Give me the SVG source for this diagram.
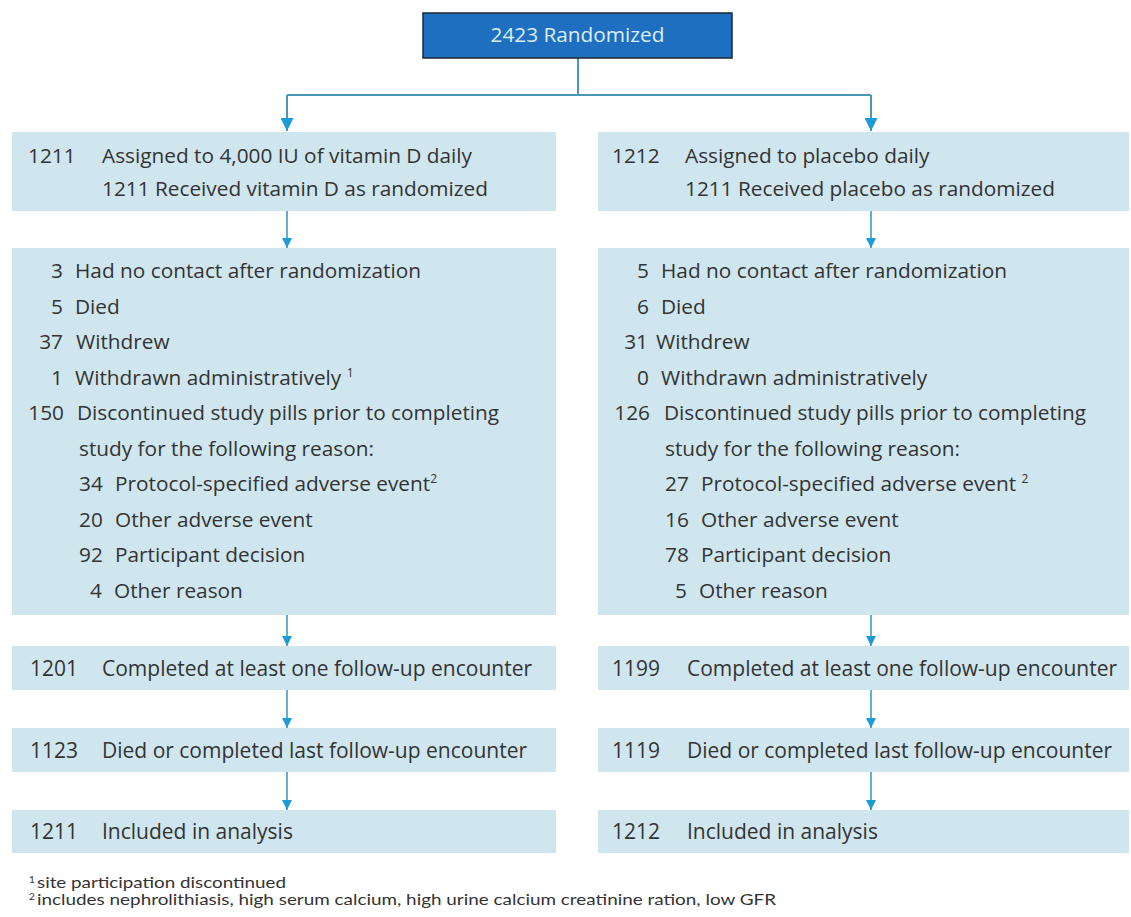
<svg xmlns="http://www.w3.org/2000/svg" width="1131" height="917" viewBox="0 0 1131 917">
<style>
.box{fill:#cfe6ef}
.t{font-family:"Open Sans","Noto Sans",sans-serif;font-size:20.8px;fill:#333}
.lo{font-size:21px}
.e{text-anchor:end}
.sup{font-size:12px}
.fn{font-family:Lato,"Open Sans",sans-serif;font-size:15px;fill:#333}
.fns{font-family:Lato,"Open Sans",sans-serif;font-size:10px;fill:#333}
.ln{fill:none;stroke:#4a98b3;stroke-width:2}
.ar{fill:none;stroke:#3a9cc9;stroke-width:1.6}
</style>
<defs>
<marker id="ah" viewBox="0 0 10 10" refX="10" refY="5" markerWidth="6.5" markerHeight="6.5" orient="auto" markerUnits="strokeWidth">
<path d="M0,0 L10,5 L0,10 Z" fill="#1c9bd6"/>
</marker>
</defs>
<rect width="1131" height="917" fill="#ffffff"/>

<g id="connectors">
<path class="ln" d="M578,58 V95 M287,95 H871"/>
<path class="ln" d="M287,95 V131" marker-end="url(#ah)"/>
<path class="ln" d="M871,95 V131" marker-end="url(#ah)"/>
<path class="ar" d="M287,211 V248" marker-end="url(#ah)"/>
<path class="ar" d="M871,211 V248" marker-end="url(#ah)"/>
<path class="ar" d="M287,615 V646" marker-end="url(#ah)"/>
<path class="ar" d="M871,615 V646" marker-end="url(#ah)"/>
<path class="ar" d="M287,690 V728" marker-end="url(#ah)"/>
<path class="ar" d="M871,690 V728" marker-end="url(#ah)"/>
<path class="ar" d="M287,772 V810" marker-end="url(#ah)"/>
<path class="ar" d="M871,772 V810" marker-end="url(#ah)"/>
</g>

<g id="randomized">
<rect x="423" y="13" width="309" height="45" fill="#1e6fc0" stroke="#1c2733" stroke-width="1.5"/>
<text class="t" x="577.5" y="42" text-anchor="middle" style="fill:#dcedf6">2423 Randomized</text>
</g>

<g id="assigned-vitd">
<rect class="box" x="12" y="132" width="544" height="79"/>
<text class="t" x="28" y="163">1211</text>
<text class="t" x="102" y="163">Assigned to 4,000 IU of vitamin D daily</text>
<text class="t" x="102" y="196">1211 Received vitamin D as randomized</text>
</g>

<g id="assigned-placebo">
<rect class="box" x="598" y="132" width="531" height="79"/>
<text class="t" x="612" y="163">1212</text>
<text class="t" x="685" y="163">Assigned to placebo daily</text>
<text class="t" x="685" y="196">1211 Received placebo as randomized</text>
</g>

<g id="losses-vitd">
<rect class="box" x="12" y="248" width="544" height="367"/>
<text class="t e" x="63" y="278">3</text><text class="t" x="75" y="278">Had no contact after randomization</text>
<text class="t e" x="63" y="313.5">5</text><text class="t" x="75" y="313.5">Died</text>
<text class="t e" x="63" y="349">37</text><text class="t" x="76" y="349">Withdrew</text>
<text class="t e" x="63" y="384.5">1</text><text class="t" x="75" y="384.5">Withdrawn administratively <tspan class="sup" dy="-8">1</tspan></text>
<text class="t e" x="64" y="420">150</text><text class="t" x="77" y="420">Discontinued study pills prior to completing</text>
<text class="t" x="79" y="455.5">study for the following reason:</text>
<text class="t" x="79" y="491">34</text><text class="t" x="115" y="491">Protocol-specified adverse event<tspan class="sup" dy="-8">2</tspan></text>
<text class="t" x="79" y="526.5">20</text><text class="t" x="115" y="526.5">Other adverse event</text>
<text class="t" x="79" y="562">92</text><text class="t" x="115" y="562">Participant decision</text>
<text class="t e" x="102" y="597.5">4</text><text class="t" x="114" y="597.5">Other reason</text>
</g>

<g id="losses-placebo">
<rect class="box" x="598" y="248" width="531" height="367"/>
<text class="t e" x="649" y="278">5</text><text class="t" x="661" y="278">Had no contact after randomization</text>
<text class="t e" x="649" y="313.5">6</text><text class="t" x="661" y="313.5">Died</text>
<text class="t e" x="648" y="349">31</text><text class="t" x="656" y="349">Withdrew</text>
<text class="t e" x="649" y="384.5">0</text><text class="t" x="661" y="384.5">Withdrawn administratively</text>
<text class="t e" x="650" y="420">126</text><text class="t" x="664" y="420">Discontinued study pills prior to completing</text>
<text class="t" x="665" y="455.5">study for the following reason:</text>
<text class="t" x="665" y="491">27</text><text class="t" x="701" y="491">Protocol-specified adverse event <tspan class="sup" dy="-8">2</tspan></text>
<text class="t" x="665" y="526.5">16</text><text class="t" x="701" y="526.5">Other adverse event</text>
<text class="t" x="665" y="562">78</text><text class="t" x="701" y="562">Participant decision</text>
<text class="t e" x="687" y="597.5">5</text><text class="t" x="699" y="597.5">Other reason</text>
</g>

<g id="followup-vitd">
<rect class="box" x="12" y="646" width="544" height="44"/>
<text class="t lo" x="30" y="676">1201</text>
<text class="t lo" x="102" y="676">Completed at least one follow-up encounter</text>
</g>
<g id="followup-placebo">
<rect class="box" x="598" y="646" width="531" height="44"/>
<text class="t lo" x="612" y="676">1199</text>
<text class="t lo" x="687" y="676">Completed at least one follow-up encounter</text>
</g>

<g id="last-vitd">
<rect class="box" x="12" y="728" width="544" height="44"/>
<text class="t lo" x="30" y="758">1123</text>
<text class="t lo" x="102" y="758">Died or completed last follow-up encounter</text>
</g>
<g id="last-placebo">
<rect class="box" x="598" y="728" width="531" height="44"/>
<text class="t lo" x="612" y="758">1119</text>
<text class="t lo" x="687" y="758">Died or completed last follow-up encounter</text>
</g>

<g id="analysis-vitd">
<rect class="box" x="12" y="810" width="544" height="43"/>
<text class="t lo" x="30" y="839">1211</text>
<text class="t lo" x="102" y="839">Included in analysis</text>
</g>
<g id="analysis-placebo">
<rect class="box" x="598" y="810" width="531" height="43"/>
<text class="t lo" x="612" y="839">1212</text>
<text class="t lo" x="687" y="839">Included in analysis</text>
</g>

<g id="footnotes">
<text class="fns" x="29" y="883">1</text>
<text class="fn" x="37" y="888" textLength="249" lengthAdjust="spacingAndGlyphs">site participation discontinued</text>
<text class="fns" x="29" y="900">2</text>
<text class="fn" x="37" y="905" textLength="739" lengthAdjust="spacingAndGlyphs">includes nephrolithiasis, high serum calcium, high urine calcium creatinine ration, low GFR</text>
</g>
</svg>
